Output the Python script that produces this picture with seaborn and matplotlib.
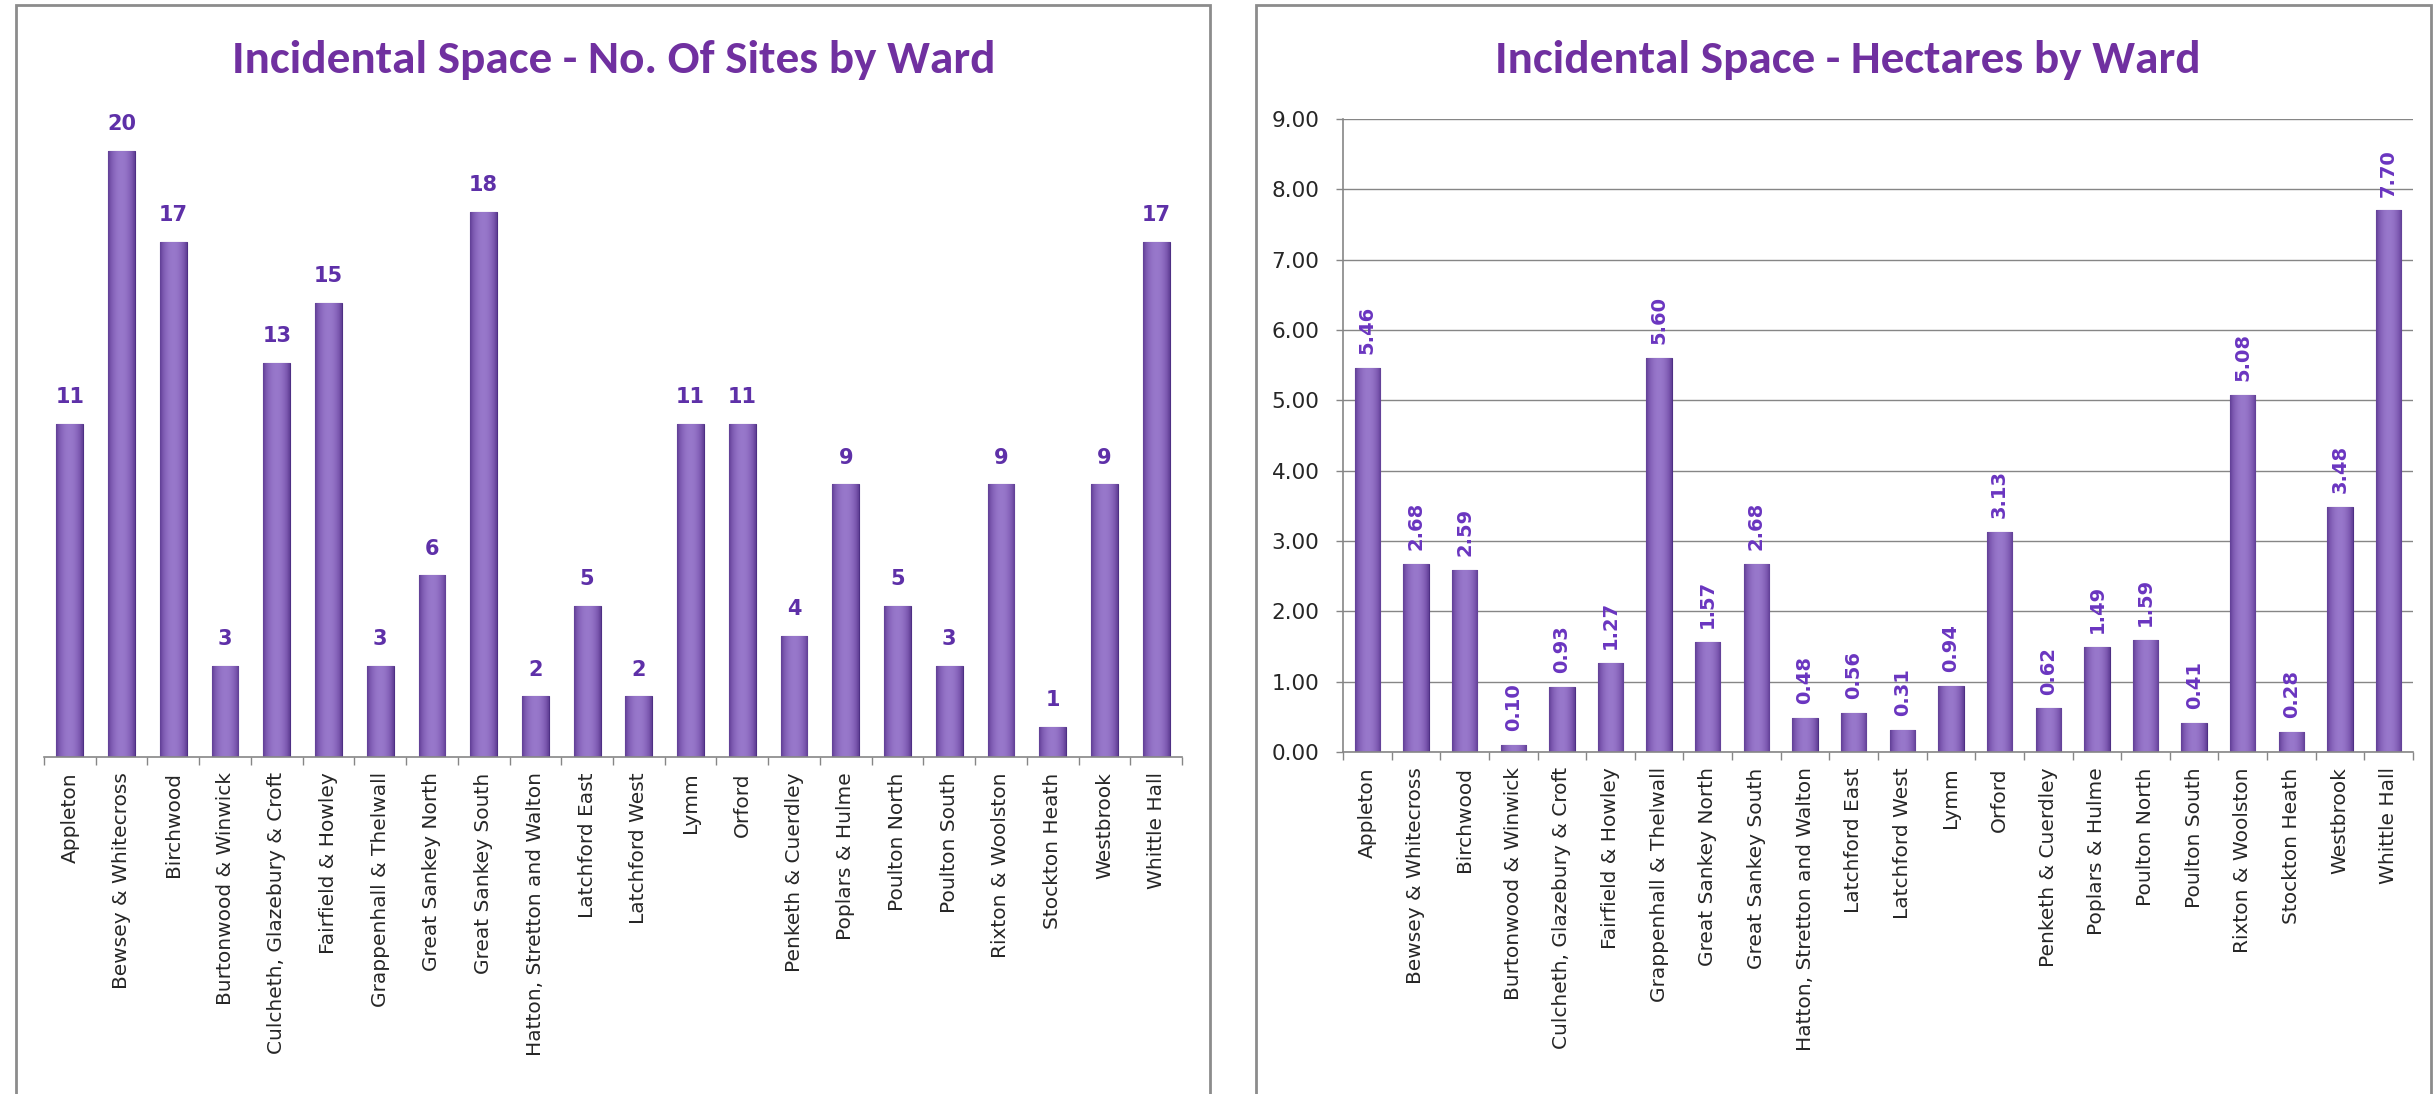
import numpy as np
import pandas as pd
import matplotlib
matplotlib.use('Agg')
import matplotlib.pyplot as plt
import seaborn as sns
from matplotlib import font_manager
from matplotlib.colors import LinearSegmentedColormap
from matplotlib.patches import Rectangle

# Data
wards = ["Appleton", "Bewsey & Whitecross", "Birchwood", "Burtonwood & Winwick",
         "Culcheth, Glazebury & Croft", "Fairfield & Howley", "Grappenhall & Thelwall",
         "Great Sankey North", "Great Sankey South", "Hatton, Stretton and Walton",
         "Latchford East", "Latchford West", "Lymm", "Orford", "Penketh & Cuerdley",
         "Poplars & Hulme", "Poulton North", "Poulton South", "Rixton & Woolston",
         "Stockton Heath", "Westbrook", "Whittle Hall"]
sites = [11, 20, 17, 3, 13, 15, 3, 6, 18, 2, 5, 2, 11, 11, 4, 9, 5, 3, 9, 1, 9, 17]
hectares = [5.46, 2.68, 2.59, 0.10, 0.93, 1.27, 5.60, 1.57, 2.68, 0.48, 0.56, 0.31,
            0.94, 3.13, 0.62, 1.49, 1.59, 0.41, 5.08, 0.28, 3.48, 7.70]
hect_ticks = [0, 1, 2, 3, 4, 5, 6, 7, 8, 9]

titles = ["Incidental Space - No. Of Sites by Ward", "Incidental Space - Hectares by Ward"]

df = pd.DataFrame({'ward': wards, 'sites': sites, 'hectares': hectares})

# Fonts - Calibri-like for the titles if we can find one
available = {f.name for f in font_manager.fontManager.ttflist}
title_font = 'DejaVu Sans'
for cand in ['Carlito', 'Fira Sans Condensed', 'Pragati Narrow', 'Liberation Sans Narrow']:
    if cand in available:
        title_font = cand
        break
title_size = 34 if title_font == 'Carlito' else 30

sns.set_style('white')
plt.rcParams['font.family'] = ['DejaVu Sans']

title_col = '#7030A0'
label_col = '#6A35C0'
bar_col = '#7A56AE'
grey = '#868686'

W, H = 2436, 1094
fig = plt.figure(figsize=(W / 100, H / 100), dpi=100)
fig.patch.set_facecolor('white')

def fx(px):
    return px / W

def fy(px):
    return 1 - px / H

# panel frames
for x0, x1 in [(16, 1210), (1256, 2431)]:
    fig.add_artist(Rectangle((fx(x0), fy(1200)), fx(x1 - x0), fy(5) - fy(1200),
                             transform=fig.transFigure, fill=False,
                             edgecolor='#8c8c8c', linewidth=2))

# titles
fig.text(fx(614), fy(60), titles[0], ha='center', va='center', fontsize=title_size,
         fontweight='bold', color=title_col, family=title_font)
fig.text(fx(1848), fy(60), titles[1], ha='center', va='center', fontsize=title_size,
         fontweight='bold', color=title_col, family=title_font)

# bar shading (cylinder look)
shade_cmap = LinearSegmentedColormap.from_list('shade', ['#4E2F84', '#7A56AE', '#9878CB'])
profile = 1 - 3.2 * (np.linspace(0, 1, 64) - 0.5) ** 2
profile = np.clip(profile, 0, 1)[None, :]

def shade(ax):
    xl, yl = ax.get_xlim(), ax.get_ylim()
    for p in ax.patches:
        x0, y0 = p.get_x(), p.get_y()
        w, h = p.get_width(), p.get_height()
        im = ax.imshow(profile, cmap=shade_cmap, vmin=0, vmax=1, aspect='auto',
                       extent=[x0, x0 + w, y0, y0 + h], zorder=2.5, interpolation='bicubic')
        im.set_clip_path(p)
    ax.set_xlim(xl)
    ax.set_ylim(yl)

def cat_axis(ax):
    n = len(wards)
    ax.set_xlim(-0.5, n - 0.5)
    ax.set_xticks(np.arange(n))
    ax.set_xticks(np.arange(-0.5, n, 1), minor=True)
    ax.set_xticklabels(wards, rotation=90, fontsize=14.5)
    ax.tick_params(axis='x', which='major', length=0, pad=11)
    ax.tick_params(axis='x', which='minor', length=6, width=1, color=grey, direction='out', bottom=True)
    ax.set_xlabel('')
    ax.set_ylabel('')

# Left: number of sites
ax1 = fig.add_axes([fx(44), fy(757), fx(1182 - 44), fy(100) - fy(757)])
sns.barplot(data=df, x='ward', y='sites', ax=ax1, color=bar_col, saturation=1,
            width=0.52, edgecolor='#4E2F84', linewidth=0.8)
ax1.set_ylim(0, 657 / 30.3)
cat_axis(ax1)
ax1.set_yticks([])
for s in ['left', 'right', 'top']:
    ax1.spines[s].set_visible(False)
ax1.spines['bottom'].set_color(grey)
ax1.spines['bottom'].set_linewidth(1.2)
ax1.bar_label(ax1.containers[0], labels=[str(v) for v in sites], padding=12,
              fontsize=15, fontweight='bold', color='#5E30A8')
shade(ax1)

# Right: hectares
ax2 = fig.add_axes([fx(1343), fy(752), fx(2413 - 1343), fy(119) - fy(752)])
sns.barplot(data=df, x='ward', y='hectares', ax=ax2, color=bar_col, saturation=1,
            width=0.52, edgecolor='#4E2F84', linewidth=0.8, zorder=2)
ax2.set_ylim(0, 9)
cat_axis(ax2)
ax2.set_yticks(hect_ticks)
ax2.set_yticklabels([f'{v:.2f}' for v in hect_ticks], fontsize=15.5)
ax2.tick_params(axis='y', length=5, width=1, color=grey, pad=12, left=True)
ax2.yaxis.grid(True, color=grey, linewidth=1)
ax2.set_axisbelow(True)
for s in ['right', 'top']:
    ax2.spines[s].set_visible(False)
for s in ['left', 'bottom']:
    ax2.spines[s].set_color(grey)
    ax2.spines[s].set_linewidth(1.2)
ax2.bar_label(ax2.containers[0], labels=[f'{v:.2f}' for v in hectares], padding=10,
              rotation=90, fontsize=14, fontweight='bold', color=label_col)
shade(ax2)

fig.savefig('out.png', dpi=100, facecolor='white')
